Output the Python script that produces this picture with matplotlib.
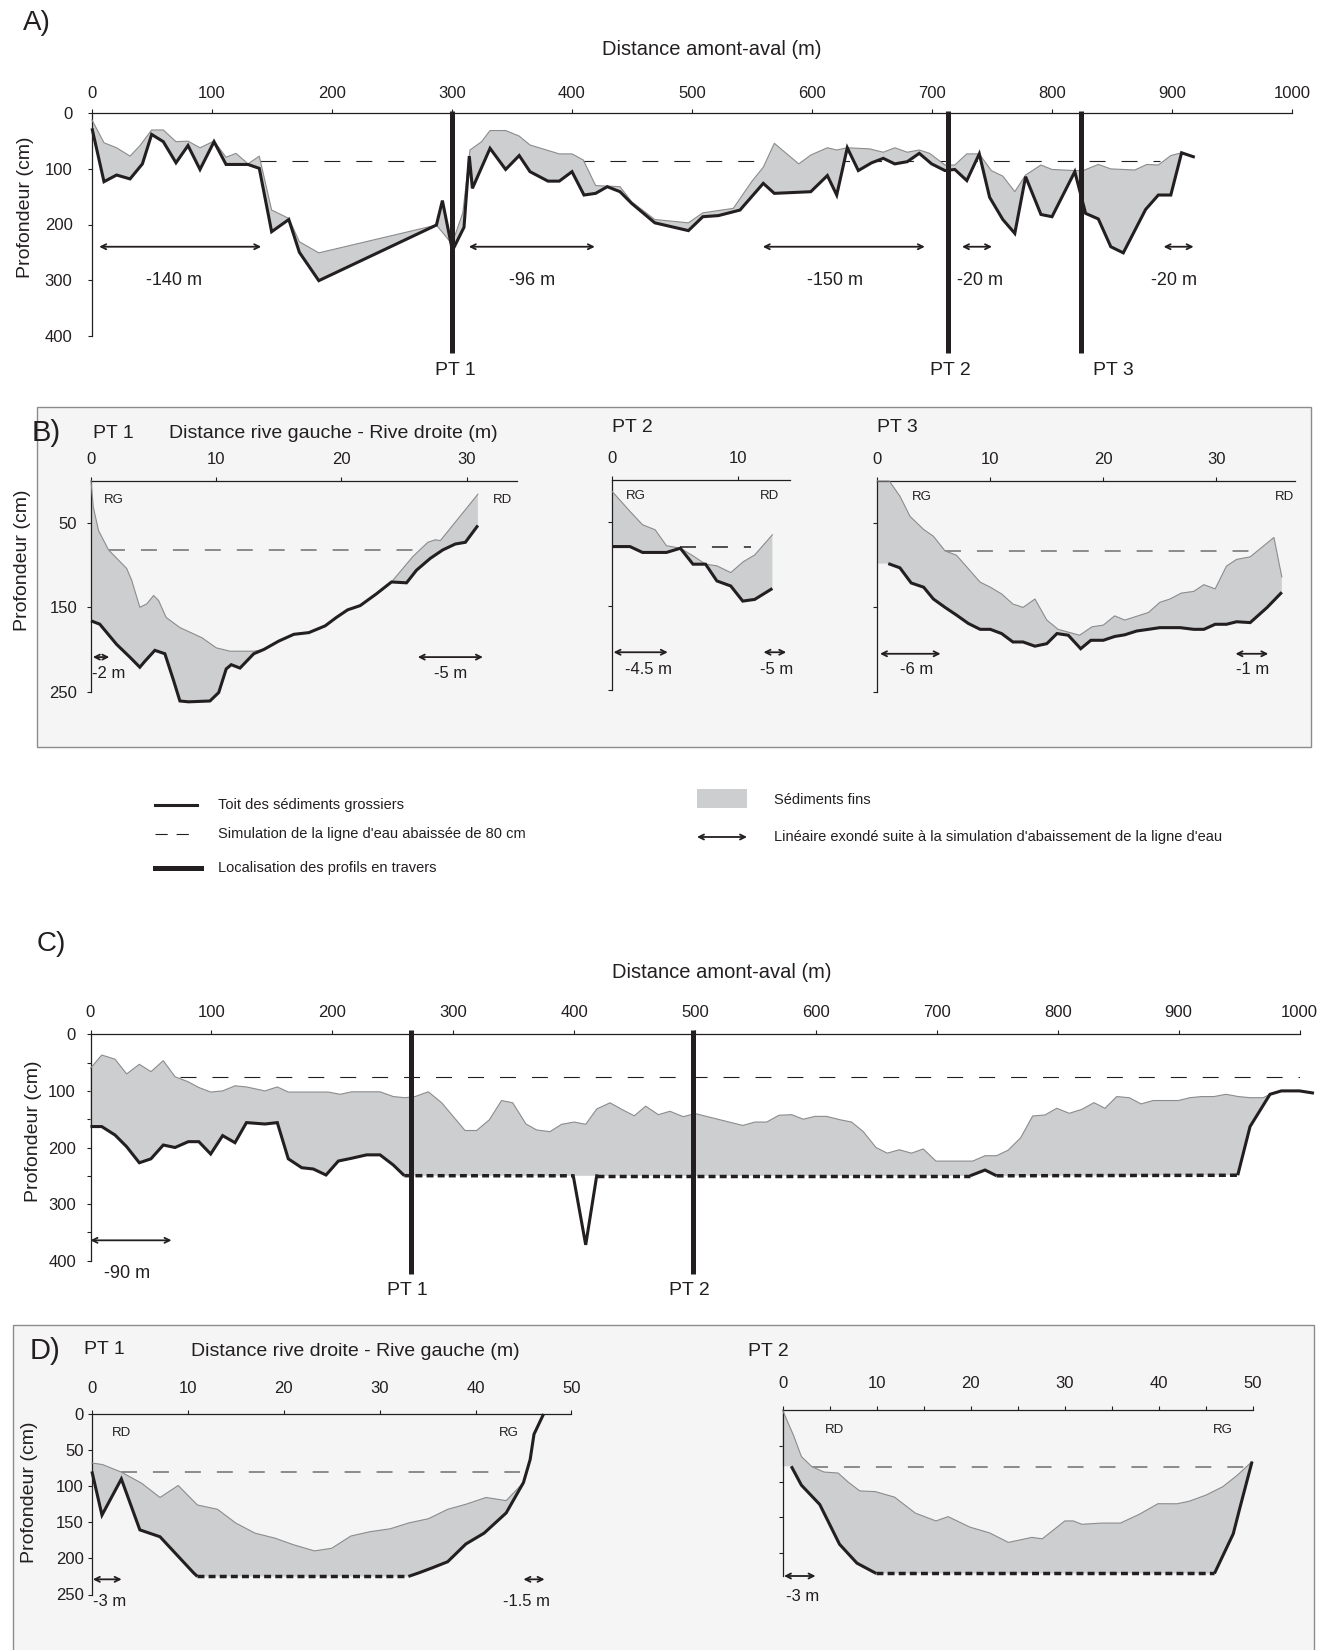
import numpy as np
import matplotlib
matplotlib.use("Agg")
import matplotlib.pyplot as plt
from matplotlib.patches import Rectangle
from matplotlib.lines import Line2D
from matplotlib.ticker import MultipleLocator

plt.rcParams['font.family'] = ['Liberation Sans', 'DejaVu Sans']

# ---------------- data ----------------
# A) long profile (distance m, depth cm)
a_fine_x = [0, 10, 20.5, 31.7, 40, 49.7, 59.4, 70, 80, 90, 101.7, 111.7, 120, 130, 139.4,
            149.7, 164, 172.8, 189, 287, 300, 309, 315, 324.7, 331.7, 344.7, 356, 365, 389.4, 400,
            409.4, 419.7, 440, 449.7, 469, 497, 509, 534.4, 549.7, 559.4, 568.6, 589, 599, 612.8, 620.6,
            629.4, 648, 659.4, 669, 679.4, 689.4, 698, 710.8, 719, 729, 739.4, 749.4, 759, 769, 778,
            790.8, 800, 819, 826, 838.6, 849, 869, 879, 888.6, 899, 908]
a_fine_y = [12, 53, 62, 77, 58, 30, 30, 51, 50, 62, 50, 79, 72, 91, 77,
            174, 189, 231, 251, 201, 235, 179, 66, 51, 31, 31, 41, 57, 73, 73,
            84, 130, 132, 159, 191, 197, 179, 171, 123, 97, 54, 91, 75, 62, 66,
            62, 64, 70, 62, 70, 66, 72, 93, 93, 73, 73, 103, 113, 141, 111,
            93, 101, 103, 103, 92, 100, 102, 92, 93, 76, 71]
a_coarse_x = [0, 10, 20.5, 31.7, 42, 49.7, 59.4, 70, 80, 90, 101.7, 111.7, 130, 139.4, 149.7,
              164, 172.8, 189, 287, 292, 299.7, 301, 310, 314.4, 317, 331.7, 344.7, 356, 365, 380,
              389.4, 400, 410, 419.7, 429.4, 440, 449.7, 469, 497, 509, 522, 540, 559.4, 568.6, 599,
              612.8, 620.6, 629.4, 638.6, 649.7, 659.4, 669, 679.4, 689.4, 699.7, 710.8, 719, 729, 739.4, 748,
              759, 769, 778, 790.8, 800, 819, 828, 838.6, 849, 859.4, 878, 888.6, 899, 908, 919]
a_coarse_y = [27, 123, 111, 118, 91, 38, 51, 89, 58, 101, 51, 92, 92, 99, 213,
              191, 250, 301, 201, 157, 240, 244, 205, 77, 135, 63, 101, 76, 105, 122,
              122, 105, 147, 144, 132, 141, 162, 197, 211, 186, 184, 174, 126, 144, 141,
              112, 147, 62, 103, 89, 81, 91, 87, 72, 91, 103, 101, 121, 73, 151,
              191, 216, 114, 182, 186, 105, 180, 190, 240, 251, 173, 147, 147, 71, 79]
a_water_y = 85
a_water_spans = [(140, 290), (405, 890)]
a_pt_x = [300, 713, 824]
a_pt_names = ['PT 1', 'PT 2', 'PT 3']
a_exposed = [(6, 141), (314, 419), (559, 694), (725, 750), (893, 918)]
a_exposed_labels = ['-140 m', '-96 m', '-150 m', '-20 m', '-20 m']
a_exposed_label_x = [68, 367, 619, 740, 902]

# B) cross sections, first campaign
b1_fine_x = [0, 0.18, 0.6, 1.4, 2.85, 3.25, 3.9, 4.45, 5.0, 5.4, 6.0, 7.1, 8.85, 10.0, 11.1, 13.0,
             13.8, 15.0, 16.2, 17.4, 18.7, 19.6, 20.5, 21.5, 22.8, 24.0, 25.7, 26.9, 27.5, 27.9, 30.9]
b1_fine_y = [0, 31, 59, 82, 104, 118, 150, 146, 136, 142, 162, 174, 186, 198, 202, 202,
             200, 190, 182, 180, 172, 162, 153, 148, 134, 120, 90, 73, 70, 71, 16]
b1_coarse_x = [0, 0.7, 2.05, 3.1, 3.9, 4.3, 5.1, 5.9, 6.6, 7.1, 7.8, 9.5, 10.2, 10.8, 11.2, 11.9, 13.0,
               13.8, 15.0, 16.2, 17.4, 18.7, 19.6, 20.5, 21.5, 22.8, 24.0, 25.2, 26.0, 27.1, 28.1, 29.1, 29.9, 30.9]
b1_coarse_y = [166, 170, 194, 209, 221, 214, 201, 205, 237, 261, 262, 261, 251, 223, 218, 222, 205,
               200, 190, 182, 180, 172, 162, 153, 148, 134, 120, 121, 106, 92, 82, 75, 73, 53]
b1_water = (82, 1.4, 25.7)
b1_exposed = [(0.15, 1.46), (26.1, 31.3)]
b1_exposed_labels = ['-2 m', '-5 m']
b1_exposed_label_x = [1.45, 28.7]

b2_fine_x = [0, 1.4, 2.4, 3.4, 4.3, 5.4, 6.4, 7.4, 8.3, 9.4, 10.4, 11.3, 12.7]
b2_fine_y = [13.5, 37, 53, 59, 78, 81, 90, 100, 102, 110, 97, 89, 65]
b2_coarse_x = [0, 1.4, 2.4, 4.3, 5.4, 6.4, 7.4, 8.3, 9.4, 10.35, 11.3, 12.7]
b2_coarse_y = [79, 79, 86, 86, 81, 100, 100, 120, 126, 144, 142, 129]
b2_water = (79, 5.4, 11.0)
b2_exposed = [(0.1, 4.4), (12.0, 13.8)]
b2_exposed_labels = ['-4.5 m', '-5 m']
b2_exposed_label_x = [2.9, 13.0]

b3_fine_x = [0, 1.06, 2.0, 2.9, 4.1, 4.96, 6.0, 7.0, 8.05, 9.1, 10.0, 11.0, 12.0, 12.9, 13.95, 15.0,
             16.0, 17.9, 19.0, 20.0, 21.0, 21.9, 24.0, 25.0, 25.9, 26.9, 28.0, 28.9, 29.9, 30.9, 31.8,
             33.0, 35.1, 35.8]
b3_fine_y = [0, 0, 18, 42, 57.5, 65.5, 83, 88, 104, 120, 126, 134, 146, 150, 140, 165,
             176, 183, 173, 171, 160, 165, 156, 144, 140, 133, 131, 123, 128, 101, 93,
             90, 67, 114]
b3_coarse_x = [0.97, 2.0, 3.0, 4.1, 4.96, 6.0, 7.0, 8.05, 9.1, 10.0, 11.0, 12.0, 12.9, 13.95, 15.0,
               15.9, 16.9, 18.0, 18.9, 20.0, 21.0, 21.9, 22.95, 24.0, 25.0, 26.8, 28.0, 28.9, 29.9,
               30.9, 31.8, 33.0, 34.5, 35.8]
b3_coarse_y = [98, 103, 121, 126, 140, 150, 159, 169, 176, 176, 181, 191, 191, 196, 193,
               181, 183, 199, 189, 189, 184.5, 182.5, 178, 176, 174, 174, 176, 176, 170,
               170, 167, 168, 150, 132]
b3_water = (83, 6.0, 34.5)
b3_exposed = [(0.24, 5.6), (31.7, 34.6)]
b3_exposed_labels = ['-6 m', '-1 m']
b3_exposed_label_x = [3.5, 33.2]

# C) long profile, second reach
c_fine_x = [0, 9.3, 20.3, 29.9, 40.4, 50, 60.2, 69.9, 80.9, 89.6, 99.4, 109.3, 119.5, 129, 144.3,
            154.5, 163.6, 196.7, 206.4, 216, 239.5, 250.5, 260, 268.4, 279.4, 290.5, 309.8, 319.4,
            329.9, 340, 349.2, 360.2, 369, 380, 389.7, 400, 409.6, 418.7, 429.7, 439.4, 449.8, 459.2,
            469.7, 479.3, 490.3, 500, 520.7, 539.5, 549.6, 559.3, 569.5, 580, 589.6, 599.3, 608.9,
            620, 629.5, 639.2, 649.7, 659, 669, 679.1, 688.8, 699.3, 729.7, 739.9, 749.5, 759.2,
            769.4, 779.3, 789.5, 799.2, 809.6, 819.9, 830, 839.1, 848.8, 859.2, 868.9, 879, 899.8,
            909.4, 919, 929.3, 939.2, 949.4, 959.1, 970, 975.6]
c_fine_y = [60, 36.6, 44, 70, 53, 66, 46.6, 75, 84, 94, 102, 100, 91, 93, 100,
            93, 102, 102, 106, 101.6, 101.6, 110, 112, 110, 101.6, 121, 170, 170,
            151, 117, 121, 158.5, 169, 172, 159, 155, 159, 132, 121, 132.6, 144, 127,
            142, 136, 145.6, 140, 151, 161, 155, 155, 143, 142, 150, 145, 145,
            151, 155, 172, 200, 210, 204, 210, 202.5, 224, 224, 214.5, 214.5, 204.5,
            182.7, 144.3, 142.5, 130.7, 139.6, 132.6, 120.8, 130.7, 110, 112, 123, 117, 117,
            112, 110, 110, 106, 110, 112, 112, 106]
c_coarse_x = [0, 9.3, 20.3, 29.9, 40.4, 50, 60.2, 69.9, 80.9, 89.6, 99.4, 109.3, 119.5, 129, 144.3,
              154.5, 163.6, 174.7, 184.3, 194.8, 205, 216, 228.4, 239.5, 250.5, 259.6, 399.3, 418.7,
              727.5, 739.9, 749.5, 948.9, 959.1, 975.6, 985, 1000, 1012]
c_coarse_y = [163, 163, 178, 198.6, 227, 220, 195.6, 200, 189.7, 189.7, 211.5, 179, 191.5, 156, 158.5,
              156, 220, 235.7, 238, 248.6, 223.9, 219, 213, 213, 231, 249.8, 250, 250,
              250, 239.8, 250, 249, 163, 106, 100, 100, 104]
# segment status: 's' surveyed, 'e' estimated, 'n' not drawn
c_coarse_seg = ['s'] * 25 + ['e', 'n', 'e', 's', 's', 'e'] + ['s'] * 5
c_pit_x = [399.3, 409.6, 418.7]
c_pit_y = [250, 372, 250]
c_water = (75, 74, 1000)
c_pt_x = [264.8, 498]
c_pt_names = ['PT 1', 'PT 2']
c_exposed = [(0, 67)]
c_exposed_labels = ['-90 m']
c_exposed_label_x = [30]

# D) cross sections, second reach
d1_fine_x = [0, 1.1, 3.07, 5.2, 7.1, 9.0, 11.0, 13.1, 15.0, 17.0, 19.1, 21.0, 23.2, 25.0, 27.0,
             29.0, 31.1, 33.0, 35.1, 37.1, 39.0, 41.1, 43.2, 45.0]
d1_fine_y = [67.8, 70, 80.5, 96, 115.6, 99, 126, 132, 151, 165, 172, 181, 189.6, 186, 169,
             163, 159, 151, 145, 132, 125, 115.6, 120, 95]
d1_coarse_x = [0, 1.05, 3.07, 5.0, 7.1, 10.6, 11.0, 33.0, 34.1, 35.5, 37.1, 39.0, 40.9, 43.2,
               45.0, 45.7, 46.1, 47.1]
d1_coarse_y = [79.5, 140, 90, 160.5, 170, 220, 225, 225, 220, 213, 204.6, 180, 165, 137,
               95, 63, 28, 0]
d1_coarse_seg = ['s'] * 6 + ['e'] + ['s'] * 10
d1_water = (80, 3.07, 44.6)
d1_exposed = [(0.1, 3.1), (45.0, 47.2)]
d1_exposed_labels = ['-3 m', '-1.5 m']
d1_exposed_label_x = [1.9, 45.3]

d2_fine_x = [0, 1.18, 2.0, 3.1, 4.4, 5.9, 7.0, 8.2, 9.85, 11.9, 14.1, 16.3, 17.6, 19.9, 22.0, 24.0,
             26.5, 27.6, 30.0, 30.9, 31.8, 33.9, 35.9, 37.9, 39.9, 41.9, 43.2, 45.0, 46.8, 48.3, 49.9]
d2_fine_y = [0, 36, 65, 79, 86.6, 88, 101, 113, 114, 121.7, 144, 155, 149, 163.6, 171.7, 185,
             178, 180, 155, 155, 159.7, 158, 158, 145.8, 130.9, 131, 127.5, 118.9, 107, 91.4, 72]
d2_coarse_x = [0.92, 2.0, 3.95, 6.05, 7.9, 9.96, 45.9, 47.9, 48.6, 49.9]
d2_coarse_y = [78.5, 105, 132, 187.6, 214, 228.5, 228.5, 173, 137, 72]
d2_coarse_seg = ['s'] * 5 + ['e'] + ['s'] * 3
d2_water = (79, 3.1, 49.9)
d2_exposed = [(0.15, 3.5)]
d2_exposed_labels = ['-3 m']
d2_exposed_label_x = [2.1]

# ---------------- style ----------------
W, H = 1319, 1650
INK = '#231f20'
FINE = '#cdced0'
FINE_EDGE = '#8c8c8c'
BOX = '#f4f5f4'
BOX_EDGE = '#8c8c8c'
WATER_GREY = '#6e6e6e'

fig = plt.figure(figsize=(W / 100, H / 100), dpi=100)
bg = fig.add_axes([0, 0, 1, 1])
bg.set_xlim(0, W)
bg.set_ylim(H, 0)
bg.axis('off')


def px_axes(left, top, right, bottom, xpad=6, ypad=7):
    ax = fig.add_axes([left / W, 1 - bottom / H, (right - left) / W, (bottom - top) / H])
    ax.patch.set_visible(False)
    for s in ('right', 'bottom'):
        ax.spines[s].set_visible(False)
    for s in ('top', 'left'):
        ax.spines[s].set_color(INK)
        ax.spines[s].set_linewidth(0.9)
    ax.xaxis.tick_top()
    ax.tick_params(which='both', colors=INK, labelcolor=INK, length=3, width=0.8, labelsize=12)
    ax.tick_params(axis='x', pad=xpad)
    ax.tick_params(axis='y', pad=ypad)
    return ax


def dash(lw):
    return (0, (11.5 / lw, 11.5 / lw))


def draw_section(ax, gx, gy, bx, by, seg=None, lw=2.2):
    gx, gy, bx, by = map(np.asarray, (gx, gy, bx, by))
    keep = bx <= gx.max() + 1e-6
    kx, ky = bx[keep], by[keep]
    px = np.r_[gx, kx[::-1], gx[0]]
    py = np.r_[gy, ky[::-1], ky[0]]
    ax.fill(px, py, color=FINE, lw=0, zorder=2, clip_on=False)
    ax.plot(gx, gy, color=FINE_EDGE, lw=0.8, zorder=3, clip_on=False)
    if seg is None:
        seg = ['s'] * (len(bx) - 1)
    i = 0
    while i < len(seg):
        j = i
        while j + 1 < len(seg) and seg[j + 1] == seg[i]:
            j += 1
        if seg[i] == 's':
            ax.plot(bx[i:j + 2], by[i:j + 2], color=INK, lw=lw, zorder=4,
                    clip_on=False, solid_joinstyle='miter', solid_capstyle='butt')
        elif seg[i] == 'e':
            ax.plot(bx[i:j + 2], by[i:j + 2], color=INK, lw=2.5, ls=(0, (2.0, 1.2)), zorder=4,
                    clip_on=False, dash_capstyle='butt')
        i = j + 1


def draw_exposed(ax, spans, labels, label_x, y_arrow, y_text, size=13):
    for (x0, x1), lab, lx in zip(spans, labels, label_x):
        ax.annotate('', xy=(x1, y_arrow), xytext=(x0, y_arrow), annotation_clip=False,
                    arrowprops=dict(arrowstyle='<->', color=INK, lw=1.3, shrinkA=0, shrinkB=0,
                                    mutation_scale=9))
        ax.text(lx, y_text, lab, ha='center', va='center', fontsize=size, color=INK,
                clip_on=False)


def text(x, y, s, size=14, **kw):
    bg.text(x, y, s, fontsize=size, color=INK, va='center', **kw)


# ---------------- panel boxes ----------------
bg.add_patch(Rectangle((37, 406.7), 1311 - 37, 747 - 406.7, facecolor=BOX, edgecolor=BOX_EDGE, lw=1))
bg.add_patch(Rectangle((13, 1325), 1314 - 13, 340, facecolor=BOX, edgecolor=BOX_EDGE, lw=1,
                       clip_on=False))

# ---------------- A ----------------
ax = px_axes(92, 113.3, 1292, 335.7, xpad=6, ypad=11)
ax.set_xlim(0, 1000)
ax.set_ylim(400, 0)
ax.set_xticks(np.arange(0, 1001, 100))
ax.set_yticks(np.arange(0, 401, 100))
for x0, x1 in a_water_spans:
    ax.plot([x0, x1], [a_water_y, a_water_y], color=INK, lw=0.8, ls=dash(0.8), zorder=1)
draw_section(ax, a_fine_x, a_fine_y, a_coarse_x, a_coarse_y)
ax.vlines(a_pt_x, -4, 431, color=INK, lw=3.6, zorder=5, clip_on=False)
for x, name, dx in zip(a_pt_x, a_pt_names, [3, 2, 27]):
    ax.text(x + dx, 462, name, ha='center', va='center', fontsize=14, color=INK, clip_on=False)
draw_exposed(ax, a_exposed, a_exposed_labels, a_exposed_label_x, 240, 300)
text(23, 23, 'A)', size=20)
text(711.6, 49.5, 'Distance amont-aval (m)', size=14.5, ha='center')
text(25, 207, 'Profondeur (cm)', size=14, ha='center', rotation=90)

# ---------------- B ----------------
b1 = px_axes(91, 480.7, 516.7, 691.7, xpad=7, ypad=7)
b1.set_xlim(0, 34)
b1.set_ylim(250, 0)
b1.set_xticks([0, 10, 20, 30])
b1.set_yticks([50, 150, 250])
b1.plot([b1_water[1], b1_water[2]], [b1_water[0]] * 2, color=WATER_GREY, lw=1.1, ls=dash(1.1), zorder=1)
draw_section(b1, b1_fine_x, b1_fine_y, b1_coarse_x, b1_coarse_y)
draw_exposed(b1, b1_exposed, b1_exposed_labels, b1_exposed_label_x, 209, 228, size=12)
b1.text(1.8, 23, 'RG', fontsize=9.5, color=INK, ha='center', va='center')
b1.text(32.9, 23, 'RD', fontsize=9.5, color=INK, ha='center', va='center', clip_on=False)

b2 = px_axes(612.3, 480.3, 790, 690, xpad=7)
b2.set_xlim(0, 14.1)
b2.set_ylim(250, 0)
b2.set_xticks([0, 10])
b2.set_yticks([50, 150, 250])
b2.set_yticklabels([])
b2.plot([b2_water[1], b2_water[2]], [b2_water[0]] * 2, color=INK, lw=1.1, ls=dash(1.1), zorder=1)
draw_section(b2, b2_fine_x, b2_fine_y, b2_coarse_x, b2_coarse_y)
draw_exposed(b2, b2_exposed, b2_exposed_labels, b2_exposed_label_x, 205, 225, size=12)
b2.text(1.9, 19, 'RG', fontsize=9.5, color=INK, ha='center', va='center')
b2.text(12.5, 19, 'RD', fontsize=9.5, color=INK, ha='center', va='center')

b3 = px_axes(877.3, 481, 1295.4, 691.7, xpad=7)
b3.set_xlim(0, 37)
b3.set_ylim(250, 0)
b3.set_xticks([0, 10, 20, 30])
b3.set_yticks([50, 150, 250])
b3.set_yticklabels([])
b3.plot([b3_water[1], b3_water[2]], [b3_water[0]] * 2, color=WATER_GREY, lw=1.1, ls=dash(1.1), zorder=1)
draw_section(b3, b3_fine_x, b3_fine_y, b3_coarse_x, b3_coarse_y)
draw_exposed(b3, b3_exposed, b3_exposed_labels, b3_exposed_label_x, 205, 224, size=12)
b3.text(3.9, 19, 'RG', fontsize=9.5, color=INK, ha='center', va='center')
b3.text(36, 19, 'RD', fontsize=9.5, color=INK, ha='center', va='center')

text(32, 433, 'B)', size=21)
text(93, 433, 'PT 1', size=14)
text(333.3, 433, 'Distance rive gauche - Rive droite (m)', size=14, ha='center')
text(612, 428, 'PT 2', size=14)
text(877, 428, 'PT 3', size=14)
text(23, 560, 'Profondeur (cm)', size=14, ha='center', rotation=90)

# ---------------- legend ----------------
bg.add_line(Line2D([155, 197], [805, 805], color=INK, lw=2.2))
text(218, 805, 'Toit des sédiments grossiers', size=10.5)
bg.add_line(Line2D([155, 197], [834, 834], color=INK, lw=0.8, ls=(0, (11, 8))))
text(218, 834, "Simulation de la ligne d'eau abaissée de 80 cm", size=10.5)
bg.add_line(Line2D([155, 201], [868, 868], color=INK, lw=3.6))
text(218, 868, 'Localisation des profils en travers', size=10.5)
bg.add_patch(Rectangle((697, 789), 50, 19, facecolor=FINE, edgecolor='none'))
text(774, 800, 'Sédiments fins', size=10.5)
bg.annotate('', xy=(747, 837), xytext=(697, 837),
            arrowprops=dict(arrowstyle='<->', color=INK, lw=1.3, shrinkA=0, shrinkB=0, mutation_scale=9))
text(774, 837, "Linéaire exondé suite à la simulation d'abaissement de la ligne d'eau", size=10.5)

# ---------------- C ----------------
cx = px_axes(90.5, 1034.3, 1299.5, 1260.7, xpad=7, ypad=7.5)
cx.set_xlim(0, 1000)
cx.set_ylim(400, 0)
cx.set_xticks(np.arange(0, 1001, 100))
cx.set_yticks(np.arange(0, 401, 100))
cx.yaxis.set_minor_locator(MultipleLocator(50))
cx.plot([c_water[1], c_water[2]], [c_water[0]] * 2, color=INK, lw=0.8, ls=dash(0.8), zorder=1)
draw_section(cx, c_fine_x, c_fine_y, c_coarse_x, c_coarse_y, seg=c_coarse_seg)
cx.plot(c_pit_x, c_pit_y, color=INK, lw=2.2, zorder=4, solid_joinstyle='miter')
cx.vlines(c_pt_x, -8, 424, color=INK, lw=3.6, zorder=5, clip_on=False)
for x, name in zip(c_pt_x, c_pt_names):
    cx.text(x - 3, 452, name, ha='center', va='center', fontsize=14, color=INK, clip_on=False)
draw_exposed(cx, c_exposed, c_exposed_labels, c_exposed_label_x, 364, 423)
text(37, 944, 'C)', size=20)
text(722, 972.7, 'Distance amont-aval (m)', size=14.5, ha='center')
text(33, 1131.7, 'Profondeur (cm)', size=14, ha='center', rotation=90)

# ---------------- D ----------------
d1 = px_axes(91.9, 1414, 571.4, 1594.5, xpad=10, ypad=3)
d1.set_xlim(0, 50)
d1.set_ylim(250, 0)
d1.set_xticks(np.arange(0, 51, 10))
d1.set_yticks(np.arange(0, 251, 50))
d1.plot([d1_water[1], d1_water[2]], [d1_water[0]] * 2, color=WATER_GREY, lw=1.1, ls=dash(1.1), zorder=1)
draw_section(d1, d1_fine_x, d1_fine_y, d1_coarse_x, d1_coarse_y, seg=d1_coarse_seg)
draw_exposed(d1, d1_exposed, d1_exposed_labels, d1_exposed_label_x, 229, 260, size=12)
d1.text(3.07, 27, 'RD', fontsize=9.5, color=INK, ha='center', va='center')
d1.text(43.5, 27, 'RG', fontsize=9.5, color=INK, ha='center', va='center')

d2 = px_axes(782.6, 1410.1, 1253, 1576, xpad=10.5)
d2.set_xlim(0, 50)
d2.set_ylim(232, 0)
d2.set_xticks(np.arange(0, 51, 10))
d2.xaxis.set_minor_locator(MultipleLocator(5))
d2.set_yticks([50, 100, 150, 200])
d2.set_yticklabels([])
d2.plot([d2_water[1], d2_water[2]], [d2_water[0]] * 2, color=WATER_GREY, lw=1.1, ls=dash(1.1), zorder=1)
draw_section(d2, d2_fine_x, d2_fine_y, d2_coarse_x, d2_coarse_y, seg=d2_coarse_seg)
draw_exposed(d2, d2_exposed, d2_exposed_labels, d2_exposed_label_x, 232, 261, size=12)
d2.text(5.5, 27.5, 'RD', fontsize=9.5, color=INK, ha='center', va='center')
d2.text(46.8, 27.5, 'RG', fontsize=9.5, color=INK, ha='center', va='center')

text(30, 1351, 'D)', size=21)
text(84, 1350, 'PT 1', size=14)
text(355, 1351, 'Distance rive droite - Rive gauche (m)', size=14, ha='center')
text(748, 1351.6, 'PT 2', size=14)
text(29.5, 1492, 'Profondeur (cm)', size=14, ha='center', rotation=90)

fig.savefig('out.png', dpi=100)
